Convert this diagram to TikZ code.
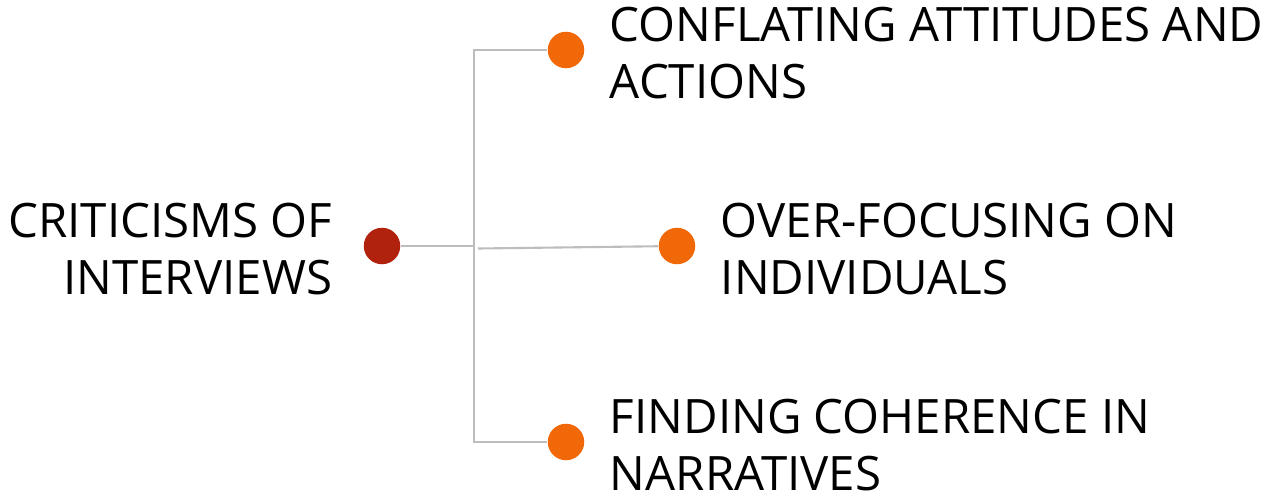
\documentclass[tikz,border=0pt]{standalone}
\usepackage{fontspec}
\setmainfont{Open Sans}
\usetikzlibrary{positioning}
\definecolor{rootred}{HTML}{B0220E}
\definecolor{leaforange}{HTML}{F06808}
\definecolor{linegray}{HTML}{BDBDBD}

\begin{document}
\begin{tikzpicture}[x=0.02cm,y=-0.02cm]
 \tikzset{root node/.style={circle, fill=rootred, inner sep=0pt,
 		minimum size=0.73cm}, }
 \tikzset{leaf node/.style={circle, fill=leaforange, inner sep=0pt,
 		minimum size=0.73cm}, }
 \tikzset{label node/.style={inner sep=0pt, text=black,
 		font=\fontsize{27}{32.9}\selectfont}, }
 \tikzset{linea/.style={draw=linegray, line width=1.2pt},}
 \useasboundingbox (0,0) rectangle (1272,498);
 \node[root node] (1) at (382,246) {};
 \node[leaf node] (2) at (566,50) {};
 \node[leaf node] (3) at (677,246) {};
 \node[leaf node] (4) at (566,442) {};
 \coordinate (j) at (474,246);
 \coordinate (jm) at (478,248.5);

 \node[label node, align=right, left=0.62cm of 1, yshift=-0.06cm] (t1) {CRITICISMS OF\\INTERVIEWS};
 \node[label node, align=left, right=0.5cm of 2, yshift=-0.06cm] (t2) {CONFLATING ATTITUDES AND\\ACTIONS};
 \node[label node, align=left, right=0.5cm of 3, yshift=-0.06cm] (t3) {OVER-FOCUSING ON\\INDIVIDUALS};
 \node[label node, align=left, right=0.5cm of 4, yshift=-0.06cm] (t4) {FINDING COHERENCE IN\\NARRATIVES};

 \path[linea] (1) -- (j);
 \foreach \y in {2,4}
 \path[linea] (j) |- (\y);
 \path[linea] (jm) -- (3);
% %%
\end{tikzpicture}
\end{document}
